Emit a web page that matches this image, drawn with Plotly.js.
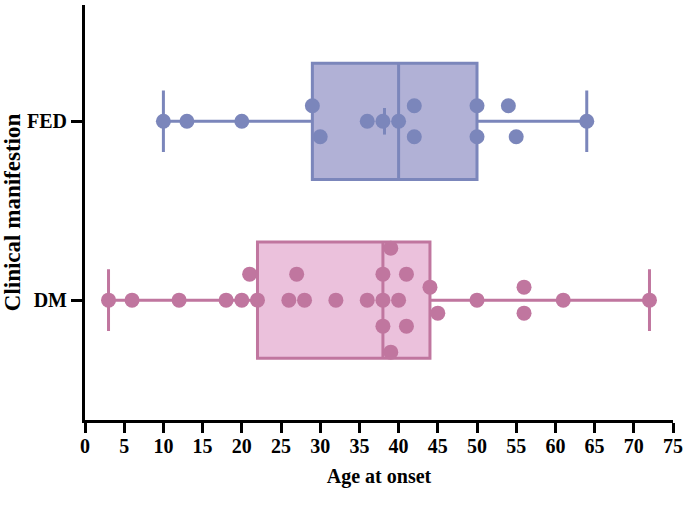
<!DOCTYPE html>
<html>
<head>
<meta charset="utf-8">
<script src="https://cdn.plot.ly/plotly-3.0.1.min.js"></script>
<style>html,body{margin:0;padding:0;background:#fff;}#chart{width:689px;height:511px;}</style>
</head>
<body>
<div id="chart"></div>
<script>
// ---- data ----
const categories = ['DM', 'FED'];
const categoryPositions = [0, 1];
const fedAges = [10, 13, 20, 29, 30, 36, 38, 40, 42, 42, 50, 50, 54, 55, 64];
const dmAges = [3, 6, 12, 18, 20, 21, 22, 26, 27, 28, 32, 36, 38, 38, 38, 39, 39, 40, 41, 41, 44, 45, 50, 56, 56, 61, 72];
const xTickValues = [0, 5, 10, 15, 20, 25, 30, 35, 40, 45, 50, 55, 60, 65, 70, 75];
const xTickLabels = ['0', '5', '10', '15', '20', '25', '30', '35', '40', '45', '50', '55', '60', '65', '70', '75'];

// ---- style / layout constants ----
const W = 689, H = 511;
const M = {l: 85, r: 16, t: 5, b: 91};
const xRange = [0, 75];
const yRange = [-0.67, 1.65];
const pxPerX = (W - M.l - M.r) / (xRange[1] - xRange[0]);
const pxPerY = (H - M.t - M.b) / (yRange[1] - yRange[0]);
const dotPx = 15;

const styles = {
  FED: {line: '#7b86bb', fill: '#b1b1d6', step: 31, showMean: true},
  DM: {line: '#c0769f', fill: '#ebc1dc', step: 26, showMean: false}
};

// simple beeswarm: greedy rows avoiding overlap, pairs centred
function swarm(values, center, stepPx) {
  const order = values.map((v, i) => i).sort((a, b) => values[a] - values[b]);
  const rows = new Array(values.length).fill(0);
  const placed = [];
  const cand = [0, 1, -1, 2, -2, 3, -3, 4, -4];
  order.forEach(i => {
    for (const k of cand) {
      const hit = placed.some(j => {
        const dx = (values[i] - values[j]) * pxPerX;
        const dy = (k - rows[j]) * stepPx;
        return dx * dx + dy * dy < dotPx * dotPx * 0.98;
      });
      if (!hit) { rows[i] = k; placed.push(i); break; }
    }
  });
  let cluster = [order[0]];
  const clusters = [];
  for (let n = 1; n < order.length; n++) {
    const a = order[n - 1], b = order[n];
    if ((values[b] - values[a]) * pxPerX < dotPx * 0.99) cluster.push(b);
    else { clusters.push(cluster); cluster = [b]; }
  }
  clusters.push(cluster);
  clusters.forEach(c => {
    if (c.length === 2) { rows[c[0]] = 0.5; rows[c[1]] = -0.5; }
  });
  return values.map((v, i) => center + rows[i] * stepPx / pxPerY);
}

const fontBold = {family: 'Liberation Serif, Times New Roman, serif', color: '#000', weight: 'bold'};

const groups = [
  {name: 'DM', ages: dmAges, pos: categoryPositions[0]},
  {name: 'FED', ages: fedAges, pos: categoryPositions[1]}
];

const traces = [];
groups.forEach(g => {
  const st = styles[g.name];
  traces.push({
    type: 'box', orientation: 'h', name: g.name,
    x: g.ages, y0: g.pos,
    boxpoints: false, quartilemethod: 'exclusive',
    width: 0.65, whiskerwidth: 0.53,
    fillcolor: st.fill, line: {color: st.line, width: 3},
    hoverinfo: 'skip'
  });
});
groups.forEach(g => {
  const st = styles[g.name];
  if (st.showMean) {
    const mean = g.ages.reduce((a, b) => a + b, 0) / g.ages.length;
    traces.push({
      type: 'scatter', mode: 'markers', x: [mean], y: [g.pos],
      marker: {symbol: 'line-ns', size: 19, line: {color: st.line, width: 3}},
      hoverinfo: 'skip'
    });
  }
  traces.push({
    type: 'scatter', mode: 'markers', x: g.ages, y: swarm(g.ages, g.pos, st.step),
    marker: {size: dotPx, color: st.line, line: {width: 0}},
    hoverinfo: 'skip'
  });
});

const layout = {
  width: W, height: H,
  margin: M,
  showlegend: false,
  paper_bgcolor: '#fff', plot_bgcolor: '#fff',
  xaxis: {
    range: xRange, tickvals: xTickValues, ticktext: xTickLabels,
    ticks: 'outside', ticklen: 10, tickwidth: 3, tickcolor: '#000',
    ticklabelstandoff: -4,
    showline: true, linewidth: 3, linecolor: '#000',
    showgrid: false, zeroline: false, automargin: false,
    tickfont: Object.assign({size: 20}, fontBold),
    title: {text: 'Age at onset', font: Object.assign({size: 20}, fontBold), standoff: 13}
  },
  yaxis: {
    type: 'linear', range: yRange,
    tickvals: categoryPositions, ticktext: categories,
    ticks: 'outside', ticklen: 11, tickwidth: 3, tickcolor: '#000',
    showline: true, linewidth: 3, linecolor: '#000',
    showgrid: false, zeroline: false, automargin: false,
    tickfont: Object.assign({size: 20}, fontBold),
    title: {text: 'Clinical manifestion', font: Object.assign({size: 23}, fontBold), standoff: 4}
  }
};

Plotly.newPlot('chart', traces, layout, {displayModeBar: false, staticPlot: true});
</script>
</body>
</html>
